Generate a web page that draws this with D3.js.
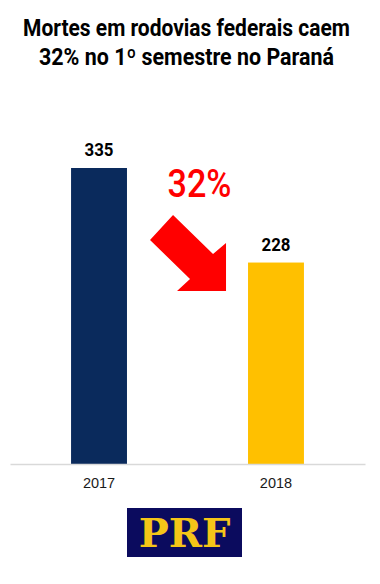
<!DOCTYPE html>
<html>
<head>
<meta charset="utf-8">
<script src="https://cdn.jsdelivr.net/npm/d3@7"></script>
<style>
  body { margin: 0; background: #fff; }
  svg { display: block; }
</style>
</head>
<body>
<div id="chart"></div>
<script>
'use strict';

// Data
const years = ['2017', '2018'];
const deaths = [335, 228];
const barColors = ['#0a2a5c', '#ffc000'];
const titleLines = ['Mortes em rodovias federais caem', '32% no 1º semestre no Paraná'];
const titleWidths = [327, 295];
const dropLabel = '32%';

const width = 380;
const height = 584;

const svg = d3.select('#chart')
  .append('svg')
    .attr('width', width)
    .attr('height', height);

// Squeeze a text horizontally around its anchor so it gets a condensed look
function condense(sel, targetWidth, cx, cy) {
  sel.each(function(d, i) {
    const node = this;
    const w = typeof targetWidth === 'function' ? targetWidth(d, i) : targetWidth;
    const natural = node.getComputedTextLength();
    const s = Math.min(1, w / natural);
    d3.select(node)
      .attr('text-anchor', 'middle')
      .attr('transform', `translate(${cx(d, i)}, ${cy(d, i)}) scale(${s}, 1)`);
  });
}

// Title
svg.append('g')
  .selectAll('text')
  .data(titleLines)
  .enter()
  .append('text')
    .attr('font-family', 'Roboto, sans-serif')
    .attr('font-weight', 'bold')
    .attr('font-size', 23)
    .attr('fill', '#000')
    .text(d => d)
    .call(condense, (d, i) => titleWidths[i], () => 186.5, (d, i) => 36 + i * 29);

// Scales
const x = d3.scaleBand()
  .domain(years)
  .range([10, 365])
  .paddingInner(0.684)
  .paddingOuter(0.345);

const y = d3.scaleLinear()
  .domain([0, d3.max(deaths)])
  .range([464, 168]);

const data = years.map((year, i) => ({ year: year, value: deaths[i], color: barColors[i] }));

// Bars
svg.append('g')
  .selectAll('rect')
  .data(data)
  .enter()
  .append('rect')
    .attr('x', d => x(d.year))
    .attr('y', d => y(d.value))
    .attr('width', x.bandwidth())
    .attr('height', d => y(0) - y(d.value))
    .attr('fill', d => d.color);

// Value labels
svg.append('g')
  .selectAll('text')
  .data(data)
  .enter()
  .append('text')
    .attr('font-family', 'Roboto, sans-serif')
    .attr('font-weight', 'bold')
    .attr('font-size', 18.5)
    .attr('fill', '#000')
    .text(d => d.value)
    .call(condense, 29, d => x(d.year) + x.bandwidth() / 2, d => y(d.value) - 12);

// x axis
const xAxis = d3.axisBottom(x).tickSize(0).tickPadding(14);
svg.append('g')
    .attr('transform', `translate(0, ${y(0)})`)
    .call(xAxis)
    .call(g => g.select('.domain').attr('stroke', '#d9d9d9').attr('stroke-width', 1.5))
    .call(g => g.selectAll('text')
      .attr('font-family', '"Liberation Sans", Arial, sans-serif')
      .attr('font-size', 14.5)
      .attr('fill', '#1a1a1a'));

// Drop annotation: percentage and arrow between the bars
const gapCenter = (x(years[0]) + x.bandwidth() + x(years[1])) / 2;

svg.append('text')
    .attr('font-family', 'Roboto, sans-serif')
    .attr('font-weight', 500)
    .attr('font-size', 38)
    .attr('fill', '#ff0000')
    .text(dropLabel)
    .call(condense, 64, () => gapCenter + 12, () => 197);

// Arrow pointing down-right towards the 2018 bar
const ax = x(years[1]) - 22; // tip column
const arrow = [
  [ax - 53, 215], [ax - 13, 254], [ax, 243], [ax, 291],
  [ax - 49, 291], [ax - 36, 279], [ax - 76, 240]
];
svg.append('path')
    .attr('d', d3.line()(arrow) + 'Z')
    .attr('fill', '#ff0000');

// PRF logo
const logo = svg.append('g');
logo.append('rect')
    .attr('x', 127)
    .attr('y', 508)
    .attr('width', 115)
    .attr('height', 49)
    .attr('fill', '#0b0b5e');
logo.append('text')
    .attr('x', 184.5)
    .attr('y', 547)
    .attr('text-anchor', 'middle')
    .attr('font-family', '"DejaVu Serif", serif')
    .attr('font-weight', 'bold')
    .attr('font-size', 40)
    .attr('fill', '#f5c518')
    .text('PRF');
</script>
</body>
</html>
